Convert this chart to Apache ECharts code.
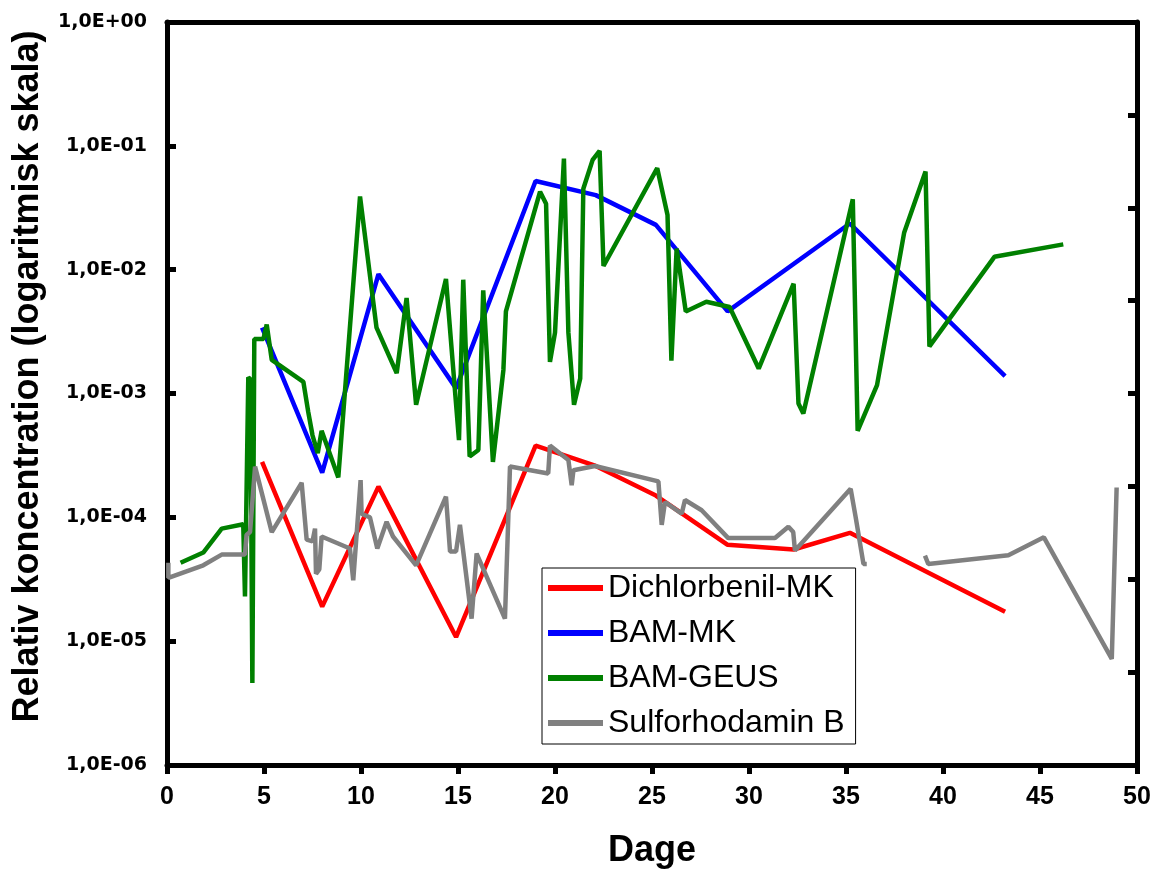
<!DOCTYPE html>
<html>
<head>
<meta charset="utf-8">
<script src="https://cdn.jsdelivr.net/npm/echarts@6/dist/echarts.min.js"></script>
<style>
html,body{margin:0;padding:0;background:#fff;}
#chart{width:1157px;height:870px;}
</style>
</head>
<body>
<div id="chart"></div>
<script>
// ---- Data ----
const seriesNames = ['Dichlorbenil-MK', 'BAM-MK', 'BAM-GEUS', 'Sulforhodamin B'];
const xTicks = [0, 5, 10, 15, 20, 25, 30, 35, 40, 45, 50];
const yTickExponents = [0, -1, -2, -3, -4, -5, -6];

const dichlorDays   = [4.9, 8.0, 10.9, 14.9, 19.0, 22.1, 25.2, 28.9, 32.3, 35.2, 43.2];
const dichlorValues = [2.8e-4, 1.9e-5, 1.77e-4, 1.08e-5, 3.8e-4, 2.6e-4, 1.5e-4, 6.0e-5, 5.5e-5, 7.5e-5, 1.73e-5];

const bamMkDays   = [4.9, 8.0, 10.9, 14.9, 19.0, 22.1, 25.2, 28.9, 35.2, 43.2];
const bamMkValues = [3.4e-3, 2.3e-4, 9.2e-3, 1.1e-3, 5.2e-2, 4.0e-2, 2.3e-2, 4.6e-3, 2.36e-2, 1.38e-3];

const geusDays = [0.7, 1.87, 2.82, 3.93, 4.02, 4.19, 4.3, 4.4, 4.5, 4.97, 5.14, 5.4, 7.03, 7.28, 7.5, 7.77, 7.97, 8.83,
  9.95, 10.8, 11.84, 12.35, 12.84, 14.38, 15.05, 15.27, 15.6, 16.05, 16.3, 16.8, 17.34, 17.47, 19.23, 19.54, 19.74, 20.0,
  20.46, 20.69, 20.98, 21.3, 21.46, 21.94, 22.3, 22.5, 25.27, 25.8, 26.0, 26.27, 26.74, 27.8, 29.0, 30.5, 32.3, 32.55,
  32.8, 35.35, 35.6, 36.6, 38.0, 39.1, 39.3, 42.65, 46.2];
const geusValues = [4.3e-5, 5.2e-5, 8.1e-5, 8.8e-5, 2.3e-5, 1.35e-3, 1.3e-3, 4.6e-6, 2.75e-3, 2.75e-3, 3.6e-3, 1.87e-3,
  1.24e-3, 7.1e-4, 4.6e-4, 3.3e-4, 5.0e-4, 2.1e-4, 3.9e-2, 3.4e-3, 1.46e-3, 5.9e-3, 8.1e-4, 8.4e-3, 4.2e-4, 8.3e-3,
  3.1e-4, 3.5e-4, 6.8e-3, 2.8e-4, 1.55e-3, 4.6e-3, 4.26e-2, 3.4e-2, 1.8e-3, 3.1e-3, 7.9e-2, 3.1e-3, 8.1e-4, 1.32e-3,
  4.5e-2, 7.7e-2, 9.1e-2, 1.07e-2, 6.6e-2, 2.76e-2, 1.84e-3, 1.48e-2, 4.6e-3, 5.5e-3, 5.0e-3, 1.59e-3, 7.7e-3, 8.3e-4,
  6.9e-4, 3.7e-2, 5.0e-4, 1.17e-3, 2.0e-2, 6.2e-2, 2.4e-3, 1.27e-2, 1.6e-2];

const sulfoDays = [0.07, 0.07, 1.87, 2.82, 4.02, 4.1, 4.28, 4.54, 5.4, 6.94, 7.2, 7.5, 7.63, 7.68, 7.85, 7.97, 9.43, 9.6,
  9.98, 10.03, 10.46, 10.84, 11.32, 11.65, 12.84, 14.38, 14.59, 14.9, 15.1, 15.7, 15.96, 17.42, 17.68, 19.65, 19.74,
  20.69, 20.86, 20.95, 22.06, 25.33, 25.5, 25.67, 26.53, 26.7, 27.56, 28.93, 31.34, 32.03, 32.28, 32.37, 35.24, 35.5,
  35.9, 36.07, 37.5, 39.07, 39.24, 43.37, 45.2, 48.7, 48.95];
const sulfoValues = [4.3e-5, 3.25e-5, 4.1e-5, 5.0e-5, 5.0e-5, 7.2e-5, 7.6e-5, 2.57e-4, 7.6e-5, 1.9e-4, 6.6e-5, 6.4e-5,
  8.1e-5, 3.5e-5, 3.8e-5, 7.0e-5, 5.6e-5, 3.1e-5, 2.0e-4, 1.07e-4, 1.0e-4, 5.6e-5, 9.2e-5, 7.0e-5, 4.1e-5, 1.47e-4,
  5.3e-5, 5.3e-5, 8.7e-5, 1.52e-5, 5.1e-5, 1.52e-5, 2.57e-4, 2.26e-4, 3.8e-4, 2.9e-4, 1.82e-4, 2.4e-4, 2.6e-4, 1.95e-4,
  8.7e-5, 1.33e-4, 1.07e-4, 1.38e-4, 1.14e-4, 6.8e-5, 6.8e-5, 8.4e-5, 7.6e-5, 5.4e-5, 1.7e-4, 1.0e-4, 4.2e-5, 4.2e-5,
  null, 4.9e-5, 4.2e-5, 4.95e-5, 6.9e-5, 7.2e-6, 1.74e-4];

const seriesColors = ['#ff0000', '#0000ff', '#008000', '#808080'];

// ---- Build ----
function pairs(days, vals) {
  return days.map((d, i) => [d, vals[i] === null ? '-' : vals[i]]);
}
function expLabel(v) {
  const e = Math.round(Math.log10(v));
  return '1,0E' + (e >= 0 ? '+' : '-') + String(Math.abs(e)).padStart(2, '0');
}

const chart = echarts.init(document.getElementById('chart'), null, {renderer: 'canvas'});
const dataSets = [
  pairs(dichlorDays, dichlorValues),
  pairs(bamMkDays, bamMkValues),
  pairs(geusDays, geusValues),
  pairs(sulfoDays, sulfoValues)
];

const yTickFont = {fontFamily: 'DejaVu Sans', fontWeight: 'bold', fontSize: 19, color: '#000'};
const xTickFont = {fontFamily: 'Liberation Sans', fontWeight: 'bold', fontSize: 25, color: '#000'};

chart.setOption({
  animation: false,
  backgroundColor: '#fff',
  grid: {left: 167, right: 20, top: 22, bottom: 105, containLabel: false, outerBoundsMode: 'none'},
  legend: {
    orient: 'vertical',
    left: 542, top: 568,
    data: seriesNames,
    icon: 'rect',
    itemWidth: 55, itemHeight: 6,
    itemGap: 9,
    padding: [2, 11, 3, 6],
    borderColor: '#000', borderWidth: 1,
    backgroundColor: '#fff',
    selectedMode: false,
    textStyle: {fontFamily: 'Liberation Sans', fontSize: 32, lineHeight: 36, color: '#000'}
  },
  xAxis: [{
    type: 'value', min: 0, max: 50, interval: 5,
    name: 'Dage', nameLocation: 'middle', nameGap: 68,
    nameTextStyle: {fontFamily: 'Liberation Sans', fontWeight: 'bold', fontSize: 36, color: '#000'},
    axisLine: {show: true, onZero: false, lineStyle: {color: '#000', width: 5}},
    axisTick: {show: true, inside: false, length: 9, lineStyle: {color: '#000', width: 5}},
    axisLabel: Object.assign({margin: 20, formatter: v => String(v)}, xTickFont),
    splitLine: {show: false}
  }, {
    type: 'value', min: 0, max: 50, position: 'top',
    axisLine: {show: true, onZero: false, lineStyle: {color: '#000', width: 5}},
    axisTick: {show: false}, axisLabel: {show: false}, splitLine: {show: false}
  }],
  yAxis: [{
    type: 'log', logBase: 10, min: 1e-6, max: 1, interval: 1,
    name: 'Relativ koncentration (logaritmisk skala)', nameLocation: 'middle', nameGap: 121,
    nameTextStyle: {fontFamily: 'Liberation Sans', fontWeight: 'bold', fontSize: 36, color: '#000', padding: [0, 0, 0, 34]},
    axisLine: {show: true, onZero: false, lineStyle: {color: '#000', width: 5}},
    axisTick: {show: true, inside: true, length: 9, lineStyle: {color: '#000', width: 5}},
    axisLabel: Object.assign({margin: 20, formatter: expLabel}, yTickFont),
    splitLine: {show: false}
  }, {
    type: 'value', min: 0, max: 8, interval: 1, position: 'right', alignTicks: false,
    axisLine: {show: true, onZero: false, lineStyle: {color: '#000', width: 5}},
    axisTick: {show: true, inside: true, length: 9, lineStyle: {color: '#000', width: 5}},
    axisLabel: {show: false}, splitLine: {show: false}
  }],
  series: seriesNames.map((name, i) => ({
    name: name,
    type: 'line',
    xAxisIndex: 0, yAxisIndex: 0,
    data: dataSets[i],
    showSymbol: false,
    symbol: 'none',
    connectNulls: false,
    color: seriesColors[i],
    itemStyle: {color: seriesColors[i]},
    lineStyle: {color: seriesColors[i], width: 4.5, join: 'bevel', cap: 'butt'},
    z: 2 + i
  }))
});
</script>
</body>
</html>
